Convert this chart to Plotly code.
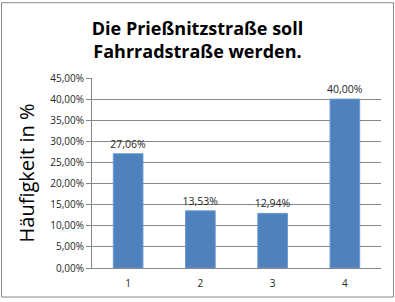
import plotly.graph_objects as go

categories = ["1", "2", "3", "4"]
values = [0.2706, 0.1353, 0.1294, 0.40]
title_lines = ["Die Prießnitzstraße soll", "Fahrradstraße werden."]
y_title = "Häufigkeit in %"

W, H = 395, 302
L, R, T, B = 92, 14, 78, 31
pw, ph = W - L - R, H - T - B

fig = go.Figure(go.Bar(
    x=categories, y=values,
    marker=dict(color="#4F81BD", line=dict(color="#6A98CF", width=1)),
    width=0.41,
    texttemplate="%{y:.2%}", textposition="outside",
    constraintext="none",
    textfont=dict(family="Open Sans, DejaVu Sans", size=10.5, color="#262626"),
    cliponaxis=False,
))

fig.update_layout(
    width=W, height=H,
    margin=dict(l=L, r=R, t=T, b=B, pad=0),
    paper_bgcolor="white", plot_bgcolor="white",
    separators=",.",
    showlegend=False,
    bargap=0.59,
    title=dict(text="<br>".join(title_lines), x=0.5, xanchor="center",
               y=1 - 35 / H, yanchor="middle",
               font=dict(family="Open Sans, DejaVu Sans", size=18, color="black", weight="bold")),
    font=dict(family="Open Sans, DejaVu Sans", size=10, color="#262626"),
    xaxis=dict(showgrid=False, showline=True, linecolor="#868686", linewidth=1,
               ticks="", tickfont=dict(size=10), ticklabelstandoff=6),
    yaxis=dict(range=[0, 0.45], dtick=0.05, tickformat=".2%",
               showgrid=True, gridcolor="#868686", gridwidth=1,
               showline=True, linecolor="#868686", linewidth=1,
               ticks="outside", ticklen=5, tickcolor="#868686",
               tickfont=dict(size=10),
               title=dict(text=y_title, font=dict(size=20, color="black"), standoff=10),
               zeroline=False),
)

fig.add_shape(type="rect", xref="paper", yref="paper",
              x0=(1.5 - L) / pw, x1=(393.5 - L) / pw,
              y0=-(300.5 - (T + ph)) / ph, y1=1 + (T - 1.5) / ph,
              line=dict(color="#888888", width=1), layer="below")

fig.write_html("out.html")
